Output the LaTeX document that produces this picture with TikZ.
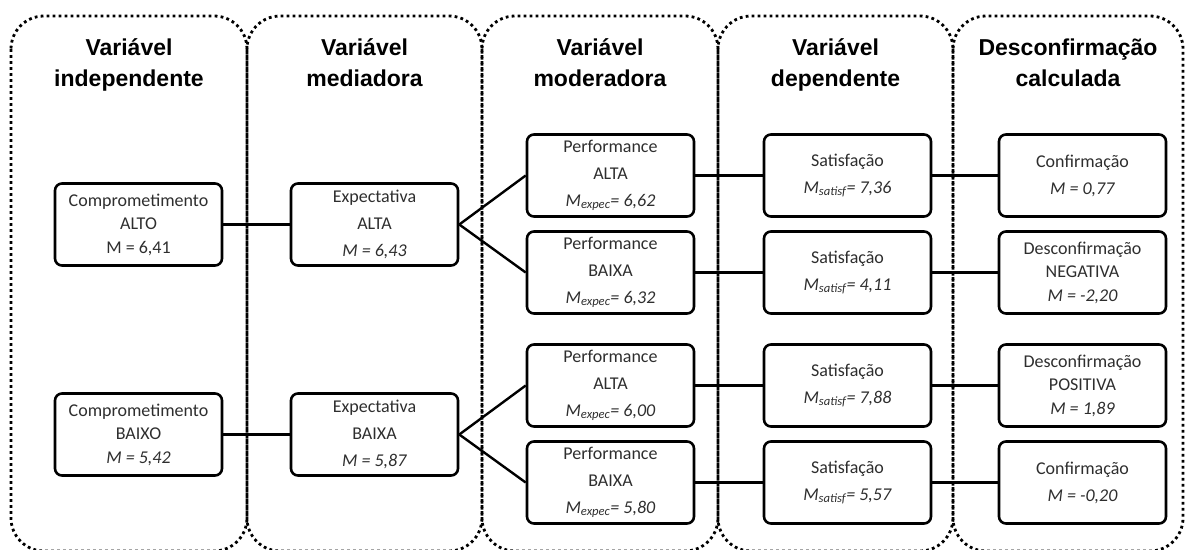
\documentclass[tikz,border=0pt]{standalone}
\usepackage{fontspec}
\setmainfont{Carlito}
\newfontfamily\headfont{Liberation Sans}
\newcommand{\hl}[1]{\vphantom{Ápj}#1}
\begin{document}
\begin{tikzpicture}[x=1pt,y=-1pt,
  column/.style={line width=2.8pt, dash pattern=on 2.8pt off 3.2pt, rounded corners=33pt},
  box/.style={draw, line width=2.6pt, rounded corners=7pt, minimum width=167pt,
    minimum height=82pt, inner sep=0pt, align=center,
    font=\fontsize{18}{23.5}\selectfont, text=black!82},
  head/.style={align=center, font=\headfont\bfseries\fontsize{23}{31}\selectfont},
  link/.style={line width=2.4pt}
]
\useasboundingbox (0,0) rectangle (1185,549);
\clip (0,0) rectangle (1185,549);

% dotted column frames
\draw[column] (11,16) rectangle (247,551);
\draw[column] (247,16) rectangle (482,551);
\draw[column] (482,16) rectangle (718,551);
\draw[column] (718,16) rectangle (953,551);
\draw[column] (953,16) rectangle (1183,551);

% column headings
\node[head] (h1) at (129,63) {\hl{Variável}\\\hl{independente}};
\node[head] (h2) at (364.5,63) {\hl{Variável}\\\hl{mediadora}};
\node[head] (h3) at (600,63) {\hl{Variável}\\\hl{moderadora}};
\node[head] (h4) at (835.5,63) {\hl{Variável}\\\hl{dependente}};
\node[head] (h5) at (1068,63) {\hl{Desconfirmação}\\\hl{calculada}};

% independent variable
\node[box] (c1) at (138.5,224.5) {Comprometimento\\ALTO\\M = 6,41};
\node[box] (c2) at (138.5,434.5) {Comprometimento\\BAIXO\\\textit{M = 5,42}};

% mediator
\node[box] (e1) at (374.5,224.5) {Expectativa\\[3.5pt]ALTA\\[3.5pt]\textit{M = 6,43}};
\node[box] (e2) at (374.5,434.5) {Expectativa\\[3.5pt]BAIXA\\[3.5pt]\textit{M = 5,87}};

% moderator
\node[box] (p1) at (610.5,175.5) {Performance\\[3.5pt]ALTA\\[3.5pt]\textit{M\textsubscript{expec}= 6,62}};
\node[box] (p2) at (610.5,272.5) {Performance\\[3.5pt]BAIXA\\[3.5pt]\textit{M\textsubscript{expec}= 6,32}};
\node[box] (p3) at (610.5,385.5) {Performance\\[3.5pt]ALTA\\[3.5pt]\textit{M\textsubscript{expec}= 6,00}};
\node[box] (p4) at (610.5,482.5) {Performance\\[3.5pt]BAIXA\\[3.5pt]\textit{M\textsubscript{expec}= 5,80}};

% dependent variable
\node[box] (s1) at (847.5,175.5) {Satisfação\\[3.5pt]\textit{M\textsubscript{satisf}= 7,36}};
\node[box] (s2) at (847.5,272.5) {Satisfação\\[3.5pt]\textit{M\textsubscript{satisf}= 4,11}};
\node[box] (s3) at (847.5,385.5) {Satisfação\\[3.5pt]\textit{M\textsubscript{satisf}= 7,88}};
\node[box] (s4) at (847.5,482.5) {Satisfação\\[3.5pt]\textit{M\textsubscript{satisf}= 5,57}};

% computed disconfirmation
\node[box] (d1) at (1082.5,175.5) {Confirmação\\[3.5pt]\textit{M = 0,77}};
\node[box] (d2) at (1082.5,272.5) {Desconfirmação\\NEGATIVA\\\textit{M = -2,20}};
\node[box] (d3) at (1082.5,385.5) {Desconfirmação\\POSITIVA\\\textit{M = 1,89}};
\node[box] (d4) at (1082.5,482.5) {Confirmação\\[3.5pt]\textit{M = -0,20}};

% connectors
\draw[link] (c1.east) -- (e1.west);
\draw[link] (c2.east) -- (e2.west);
\draw[link] (e1.east) -- (p1.west);
\draw[link] (e1.east) -- (p2.west);
\draw[link] (e2.east) -- (p3.west);
\draw[link] (e2.east) -- (p4.west);
\foreach \i in {1,2,3,4} {
  \draw[link] (p\i.east) -- (s\i.west);
  \draw[link] (s\i.east) -- (d\i.west);
}
\end{tikzpicture}
\end{document}
